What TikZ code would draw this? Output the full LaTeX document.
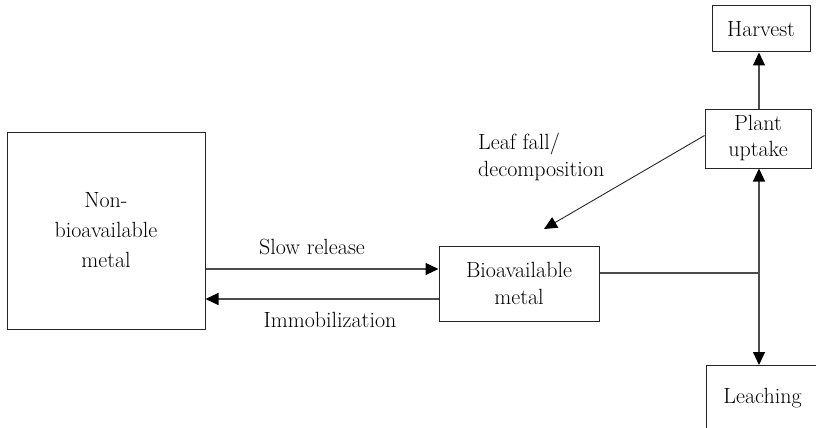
\documentclass[tikz,border=0pt]{standalone}
\usepackage{fontspec}
\usetikzlibrary{arrows.meta}
\begin{document}
\begin{tikzpicture}[x=1pt,y=-1pt,
  lbl/.style={font=\fontsize{22}{30}\selectfont, inner sep=0pt, align=center},
  box/.style={draw=black!85, line width=1pt, inner sep=0pt, align=center, font=\fontsize{22}{30}\selectfont},
  conn/.style={draw=black!70, line width=1.1pt},
  arr/.style={conn, -{Triangle[length=13pt,width=12pt,color=black]}}]
\useasboundingbox (0,0) rectangle (816,428);
\clip (0,0) rectangle (816,428);
% boxes
\node[box, minimum width=198pt, minimum height=197pt] (nonbio) at (106,230.5) {Non-\\bioavailable\\metal};
\node[box, minimum width=160pt, minimum height=75pt] (bio) at (519,283.5) {Bioavailable\\[-3pt]metal};
\node[box, minimum width=106pt, minimum height=59pt] (plant) at (758,138.5) {Plant\\[-4pt]uptake};
\node[box, minimum width=98pt, minimum height=46pt] (harvest) at (761,29) {Harvest};
\node[box, anchor=north west, minimum width=112pt, minimum height=66pt] (leach) at (706,365) {Leaching};
% helper coordinates
\coordinate (ys) at (0,269);
\coordinate (yi) at (0,299);
\coordinate (j) at (759,273);
\coordinate (lf) at (544,229);
% connectors
\draw[arr] (nonbio.east |- ys) -- (bio.west |- ys);
\draw[arr] (bio.west |- yi) -- (nonbio.east |- yi);
\draw[conn] (bio.east |- j) -- (j);
\draw[arr] (j) -- (plant.south -| j);
\draw[arr] (j) -- (leach.north -| j);
\draw[arr] (plant.north -| j) -- (harvest.south -| j);
\draw[arr, draw=black!85, line width=0.9pt] ([yshift=3pt]plant.west) -- (lf);
% labels
\node[lbl] (slow) at (312,247) {Slow release};
\node[lbl] (immo) at (330,320) {Immobilization};
\node[lbl, align=left, anchor=west] (leaf) at (478,157) {Leaf fall/\\[-3pt]decomposition};
\end{tikzpicture}
\end{document}
